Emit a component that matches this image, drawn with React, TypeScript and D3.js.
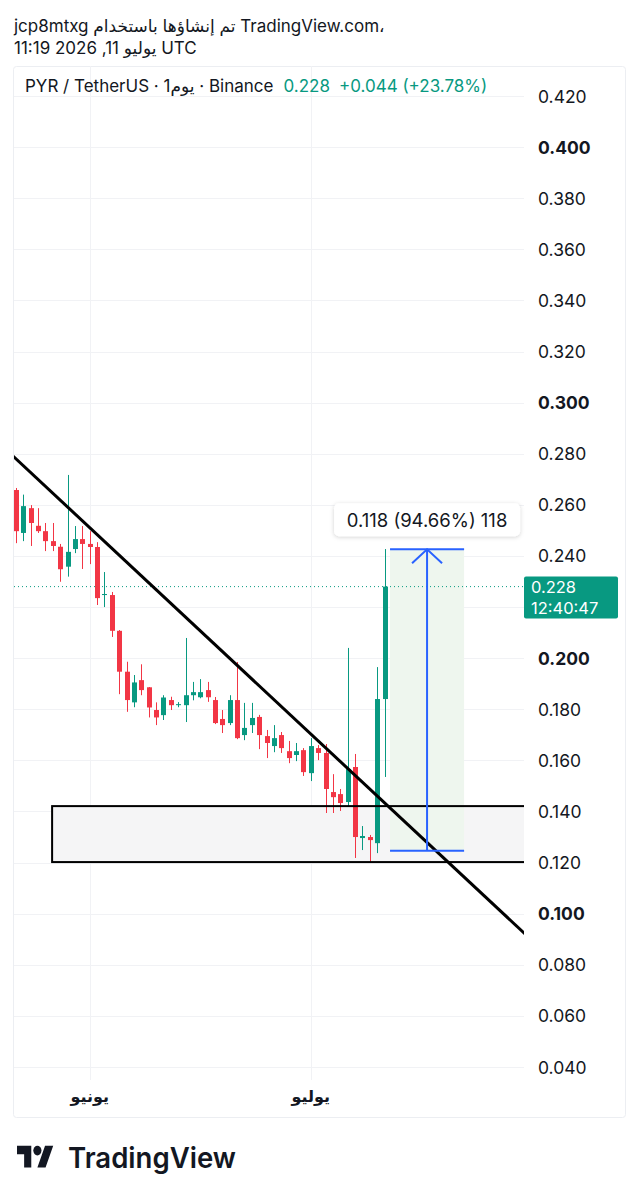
import React from "react";
import * as d3 from "d3";

const startDate = "2026-05-22";
const opens = [0.2658,0.2490,0.2587,0.2518,0.2497,0.2458,0.2436,0.2358,0.2427,0.2466,0.2447,0.2435,0.2247,0.2247,0.2107,0.1947,0.1827,0.1914,0.1886,0.1797,0.1777,0.1836,0.1816,0.1816,0.1855,0.1847,0.1875,0.1836,0.1762,0.1746,0.1836,0.1699,0.1738,0.1770,0.1695,0.1656,0.1699,0.1636,0.1621,0.1640,0.1550,0.1648,0.1629,0.1476,0.1468,0.1437,0.1574,0.1296,0.1300,0.1276,0.1840];
const highs = [0.2666,0.2640,0.2599,0.2587,0.2529,0.2529,0.2447,0.2717,0.2517,0.2517,0.2497,0.2454,0.2337,0.2259,0.2110,0.1986,0.1934,0.1976,0.1887,0.1827,0.1855,0.1849,0.1828,0.2079,0.1907,0.1918,0.1907,0.1848,0.1797,0.1855,0.1985,0.1825,0.1825,0.1778,0.1719,0.1738,0.1711,0.1676,0.1668,0.1648,0.1687,0.1660,0.1664,0.1546,0.1488,0.2040,0.1625,0.1343,0.1308,0.1965,0.2427];
const lows = [0.2450,0.2458,0.2439,0.2490,0.2419,0.2419,0.2299,0.2319,0.2411,0.2349,0.2368,0.2208,0.2200,0.2083,0.1859,0.1790,0.1808,0.1855,0.1768,0.1738,0.1758,0.1797,0.1808,0.1750,0.1835,0.1843,0.1829,0.1742,0.1707,0.1738,0.1683,0.1679,0.1707,0.1644,0.1609,0.1632,0.1629,0.1589,0.1597,0.1539,0.1519,0.1601,0.1394,0.1394,0.1402,0.1421,0.1218,0.1249,0.1200,0.1237,0.1535];
const closes = [0.2497,0.2595,0.2529,0.2497,0.2458,0.2439,0.2348,0.2416,0.2466,0.2447,0.2435,0.2235,0.2251,0.2107,0.1947,0.1836,0.1905,0.1875,0.1807,0.1768,0.1846,0.1816,0.1820,0.1855,0.1867,0.1867,0.1847,0.1746,0.1738,0.1836,0.1687,0.1727,0.1766,0.1699,0.1668,0.1687,0.1648,0.1609,0.1636,0.1554,0.1656,0.1629,0.1488,0.1456,0.1433,0.1566,0.1300,0.1304,0.1288,0.1840,0.2280];

const priceTicks = [0.42,0.40,0.38,0.36,0.34,0.32,0.30,0.28,0.26,0.24,0.22,0.20,0.18,0.16,0.14,0.12,0.10,0.08,0.06,0.04];
const boldTicks = [0.40,0.30,0.20,0.10];
const monthTicks = ["2026-06-01","2026-07-01"];
const monthLabels = ["يونيو","يوليو"];

const lastPrice = 0.228;
const countdown = "12:40:47";
// support zone
const zoneDays = [4.9, 80];
const zonePrices = [0.1421, 0.1202];
// trend line anchors (day offset, price)
const trendDays = [0, 50];
const trendPrices = [0.2780, 0.1434];
// measure tool
const measureDays = [50.75, 60.8];
const measurePrices = [0.1246, 0.2426];
const measureLabel = "0.118 (94.66%) 118";

const GREEN = "#089981";
const RED = "#f23645";
const TEXT = "#131722";
const FONT = "Inter, 'DejaVu Sans', sans-serif";

export default function App() {
  const parse = d3.utcParse("%Y-%m-%d");
  const d0 = parse(startDate)!;
  const dates = opens.map((_, i) => d3.utcDay.offset(d0, i));
  const dayAt = (n: number) => new Date(d0.getTime() + n * 86400000);

  const plotL = 14, plotR = 524, plotT = 66, plotB = 1080;
  const x = d3.scaleUtc().domain([d0, dates[dates.length - 1]]).range([16, 384.5]);
  const y = d3.scaleLinear().domain([0.04, 0.42]).range([1067, 96]);

  const candles = dates.map((d, i) => ({ d, o: opens[i], h: highs[i], l: lows[i], c: closes[i] }));
  const bw = 5;

  const tLine = d3.line<[number, number]>().x(p => x(dayAt(p[0]))).y(p => y(p[1]));
  const slope = (trendPrices[1] - trendPrices[0]) / (trendDays[1] - trendDays[0]);
  const tPts: [number, number][] = [-2, 75].map(n => [n, trendPrices[0] + slope * (n - trendDays[0])]);

  const mx0 = x(dayAt(measureDays[0])), mx1 = x(dayAt(measureDays[1]));
  const my0 = y(measurePrices[0]), my1 = y(measurePrices[1]);
  const mxc = (mx0 + mx1) / 2;

  const zx0 = x(dayAt(zoneDays[0])), zx1 = x(dayAt(zoneDays[1]));
  const zy0 = y(zonePrices[0]), zy1 = y(zonePrices[1]);

  const lpY = y(lastPrice);
  const boxTop = lpY - 10, boxH = 42;
  const visibleTicks = priceTicks.filter(t => y(t) < boxTop - 8 || y(t) > boxTop + boxH + 8);

  return (
    <svg width={639} height={1199} style={{ position: "absolute", left: 0, top: 0, background: "#fff" }} fontFamily={FONT}>
      <defs>
        <clipPath id="plot"><rect x={plotL} y={plotT} width={plotR - plotL} height={plotB - plotT} /></clipPath>
        <filter id="sh" x="-10%" y="-30%" width="120%" height="170%">
          <feDropShadow dx="0" dy="1" stdDeviation="2" floodColor="#000" floodOpacity="0.18" />
        </filter>
      </defs>
      <rect width={639} height={1199} fill="#fff" />
      {/* header */}
      <text x={14} y={32} fontSize={17} fill={TEXT}>jcp8mtxg تم إنشاؤها باستخدام TradingView.com،</text>
      <text x={14} y={54} fontSize={17} fill={TEXT}>11:19 2026 ,11 يوليو UTC</text>
      {/* frame */}
      <rect x={13.5} y={66.5} width={612} height={1051} fill="none" stroke="#eceef2" rx={3} />
      {/* grid */}
      {priceTicks.map(t => (
        <line key={t} x1={plotL} x2={plotR} y1={Math.round(y(t)) + 0.5} y2={Math.round(y(t)) + 0.5} stroke="#f1f2f5" />
      ))}
      {monthTicks.map(m => {
        const xx = Math.round(x(parse(m)!)) + 0.5;
        return <line key={m} x1={xx} x2={xx} y1={plotT} y2={plotB} stroke="#f1f2f5" />;
      })}
      <g clipPath="url(#plot)">
        {/* support zone fill */}
        <rect x={zx0} y={zy0} width={zx1 - zx0} height={zy1 - zy0} fill="#f5f5f6" />
        {/* measure shading */}
        <rect x={mx0} y={my1} width={mx1 - mx0} height={my0 - my1} fill="#eef6ee" />
        {/* last price dotted */}
        <line x1={plotL} x2={plotR} y1={lpY} y2={lpY} stroke={GREEN} strokeWidth={1} strokeDasharray="1 3" />
        {/* candles */}
        {candles.map((c, i) => {
          const cx = Math.round(x(c.d));
          const col = c.c >= c.o ? GREEN : RED;
          const top = y(Math.max(c.o, c.c));
          const bot = y(Math.min(c.o, c.c));
          return (
            <g key={i}>
              <line x1={cx + 0.5} x2={cx + 0.5} y1={y(c.h)} y2={y(c.l)} stroke={col} strokeWidth={1} />
              <rect x={cx - 2} y={top} width={bw} height={Math.max(1, bot - top)} fill={col} />
            </g>
          );
        })}
        {/* support zone border */}
        <rect x={zx0} y={zy0} width={zx1 - zx0} height={zy1 - zy0} fill="none" stroke="#000" strokeWidth={2} />
        {/* trend line */}
        <path d={tLine(tPts) || ""} stroke="#000" strokeWidth={3} fill="none" />
        {/* measure tool */}
        <line x1={mx0} x2={mx1} y1={my1} y2={my1} stroke="#2962ff" strokeWidth={2} />
        <line x1={mx0} x2={mx1} y1={my0} y2={my0} stroke="#2962ff" strokeWidth={2} />
        <line x1={mxc} x2={mxc} y1={my1} y2={my0} stroke="#2962ff" strokeWidth={2} />
        <path d={`M${mxc - 15},${my1 + 14} L${mxc},${my1} L${mxc + 15},${my1 + 14}`} stroke="#2962ff" strokeWidth={2} fill="none" />
      </g>
      {/* measure label */}
      <rect x={mxc - 93} y={my1 - 46} width={186} height={33} rx={5} fill="#fff" filter="url(#sh)" />
      <text x={mxc} y={my1 - 29.5} fontSize={18.5} fill={TEXT} textAnchor="middle" dominantBaseline="central">{measureLabel}</text>
      {/* legend */}
      <text x={25} y={92} fontSize={17} fill={TEXT}>
        PYR / TetherUS · 1يوم · Binance
        <tspan fill={GREEN} dx={10}>0.228</tspan>
        <tspan fill={GREEN} dx={9}>+0.044 (+23.78%)</tspan>
      </text>
      {/* price axis */}
      {visibleTicks.map(t => (
        <text key={t} x={538} y={y(t)} fontSize={17.5} fill={TEXT} dominantBaseline="central"
          fontWeight={boldTicks.some(b => Math.abs(b - t) < 1e-9) ? 700 : 400}>{t.toFixed(3)}</text>
      ))}
      {/* last price label */}
      <rect x={524} y={boxTop} width={94} height={boxH} rx={2} fill={GREEN} />
      <text x={531} y={boxTop + 10.5} fontSize={16.5} fill="#fff" dominantBaseline="central">{lastPrice.toFixed(3)}</text>
      <text x={531} y={boxTop + 31.5} fontSize={16.5} fill="#fff" dominantBaseline="central">{countdown}</text>
      {/* time axis */}
      {monthTicks.map((m, i) => (
        <text key={m} x={x(parse(m)!)} y={1096} fontSize={16} fontWeight={700} fill={TEXT} textAnchor="middle" dominantBaseline="central">{monthLabels[i]}</text>
      ))}
      {/* TradingView logo */}
      <g transform="translate(17,1141) scale(1.02,1.2)" fill={TEXT}>
        <path d="M14 22H7V11H0V4h14v18zM28 22h-8l7.5-18h8L28 22z" />
        <circle cx={20} cy={8} r={4} />
      </g>
      <text x={68} y={1168} fontSize={29} fontWeight={600} fill={TEXT} textLength={168} lengthAdjust="spacingAndGlyphs">TradingView</text>
    </svg>
  );
}
